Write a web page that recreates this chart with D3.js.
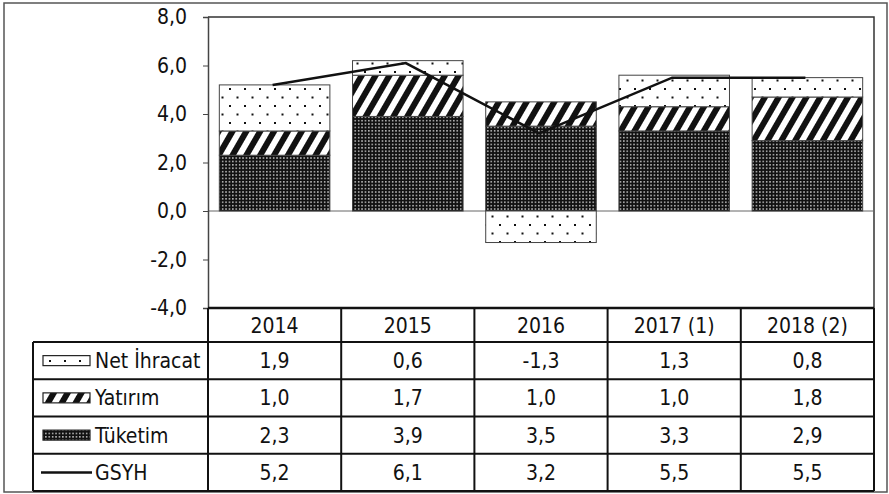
<!DOCTYPE html>
<html>
<head>
<meta charset="utf-8">
<script src="https://cdn.jsdelivr.net/npm/d3@7"></script>
<style>
  body { margin: 0; background: #fff; }
  svg { display: block; font-family: "DejaVu Sans Condensed", "DejaVu Sans", sans-serif; font-stretch: condensed; }
</style>
</head>
<body>
<svg></svg>
<script>
// Define variables
const width = 889
const height = 494

const years = ['2014', '2015', '2016', '2017 (1)', '2018 (2)']
const netIhracat = [1.9, 0.6, -1.3, 1.3, 0.8]
const yatirim = [1.0, 1.7, 1.0, 1.0, 1.8]
const tuketim = [2.3, 3.9, 3.5, 3.3, 2.9]
const gsyh = [5.2, 6.1, 3.2, 5.5, 5.5]
const yTicks = [-4, -2, 0, 2, 4, 6, 8]

const plotLeft = 208, plotRight = 874, plotTop = 17, plotBottom = 308
const tableLeft = 33, tableBottom = 491, headerBottom = 342
const fontSize = 21

const svg = d3.select('svg')
    .attr('width', width)
    .attr('height', height)

// patterns
const defs = svg.append('defs')

let pt = defs.append('pattern').attr('id', 'p-tuk')
    .attr('patternUnits', 'userSpaceOnUse').attr('width', 3.4).attr('height', 3.4)
pt.append('rect').attr('width', 3.4).attr('height', 3.4).attr('fill', '#111')
pt.append('rect').attr('x', 1).attr('y', 1).attr('width', 1.3).attr('height', 1.3).attr('fill', '#fff')

let py = defs.append('pattern').attr('id', 'p-yat')
    .attr('patternUnits', 'userSpaceOnUse').attr('width', 12).attr('height', 12)
    .attr('patternTransform', 'rotate(30)')
py.append('rect').attr('width', 12).attr('height', 12).attr('fill', '#fff')
py.append('rect').attr('width', 6).attr('height', 12).attr('fill', '#111')

let pn = defs.append('pattern').attr('id', 'p-net')
    .attr('patternUnits', 'userSpaceOnUse').attr('width', 15).attr('height', 17)
pn.append('rect').attr('width', 15).attr('height', 17).attr('fill', '#fff')
pn.append('rect').attr('x', 4).attr('y', 3).attr('width', 2).attr('height', 2).attr('fill', '#111')
pn.append('rect').attr('x', 11.5).attr('y', 11.5).attr('width', 2).attr('height', 2).attr('fill', '#111')

const fills = {tuk: 'url(#p-tuk)', yat: 'url(#p-yat)', net: 'url(#p-net)'}

// scales
let xScale = d3.scaleBand().domain(years).range([plotLeft, plotRight])
let barScale = d3.scaleBand().domain(years).range([plotLeft, plotRight])
    .paddingInner(0.17).paddingOuter(0.085)
let yScale = d3.scaleLinear().domain([-4, 8]).range([plotBottom, plotTop])

// outer frame
svg.append('rect')
    .attr('x', 4).attr('y', 3).attr('width', 883).attr('height', 489)
    .attr('fill', 'none').attr('stroke', '#555').attr('stroke-width', 1.5)

// plot border (top + right)
svg.append('path')
    .attr('d', `M${plotLeft},${plotTop}H${plotRight}V${plotBottom}`)
    .attr('fill', 'none').attr('stroke', '#333').attr('stroke-width', 1.5)

// zero line
svg.append('line')
    .attr('x1', plotLeft).attr('x2', plotRight)
    .attr('y1', yScale(0)).attr('y2', yScale(0))
    .attr('stroke', '#666').attr('stroke-width', 1)

// stacked bars
let segs = []
years.forEach((y, i) => {
    let t = tuketim[i], ya = yatirim[i], n = netIhracat[i]
    segs.push({year: y, y0: 0, y1: t, k: 'tuk'})
    segs.push({year: y, y0: t, y1: t + ya, k: 'yat'})
    if (n >= 0) segs.push({year: y, y0: t + ya, y1: t + ya + n, k: 'net'})
    else segs.push({year: y, y0: n, y1: 0, k: 'net'})
})

svg.append('g').selectAll('rect')
    .data(segs)
    .enter()
    .append('rect')
    .attr('x', d => barScale(d.year))
    .attr('width', barScale.bandwidth())
    .attr('y', d => yScale(d.y1))
    .attr('height', d => yScale(d.y0) - yScale(d.y1))
    .attr('fill', d => fills[d.k])
    .attr('stroke', '#444')
    .attr('stroke-width', 1)

// GSYH line
let line = d3.line()
    .x((d, i) => xScale(years[i]) + xScale.bandwidth() / 2 - 2)
    .y(d => yScale(d))
svg.append('path')
    .datum(gsyh)
    .attr('d', line)
    .attr('fill', 'none')
    .attr('stroke', '#111')
    .attr('stroke-width', 2.5)

// y axis
let fmt = v => d3.format('.1f')(v).replace('.', ',').replace('−', '-')
let yAxis = d3.axisLeft(yScale)
    .tickValues(yTicks)
    .tickSize(5)
    .tickFormat(fmt)
let gy = svg.append('g')
    .attr('transform', 'translate(' + plotLeft + ',0)')
    .call(yAxis)
gy.select('.domain').attr('stroke', '#444').attr('stroke-width', 1.5)
gy.selectAll('.tick line').attr('stroke', '#444')
gy.selectAll('.tick text')
    .attr('x', -21)
    .attr('font-size', fontSize)
    .attr('font-family', '"DejaVu Sans Condensed", "DejaVu Sans", sans-serif')
    .attr('fill', '#111')

// data table
const rowNames = ['Net İhracat', 'Yatırım', 'Tüketim', 'GSYH']
const rowData = [netIhracat, yatirim, tuketim, gsyh]
const rowKeys = ['net', 'yat', 'tuk', 'line']
let rowScale = d3.scaleBand().domain(rowNames).range([headerBottom, tableBottom])

let tbl = svg.append('g')
    .attr('stroke', '#111').attr('stroke-width', 2)

// horizontal lines
tbl.append('line').attr('x1', plotLeft).attr('x2', plotRight)
    .attr('y1', plotBottom).attr('y2', plotBottom).attr('stroke-width', 2.5)
rowNames.forEach(r => {
    tbl.append('line').attr('x1', tableLeft).attr('x2', plotRight)
        .attr('y1', rowScale(r)).attr('y2', rowScale(r))
})
tbl.append('line').attr('x1', tableLeft).attr('x2', plotRight)
    .attr('y1', tableBottom).attr('y2', tableBottom)

// vertical lines
tbl.append('line').attr('x1', tableLeft).attr('x2', tableLeft)
    .attr('y1', headerBottom).attr('y2', tableBottom)
years.forEach(y => {
    tbl.append('line').attr('x1', xScale(y)).attr('x2', xScale(y))
        .attr('y1', plotBottom).attr('y2', tableBottom)
})
tbl.append('line').attr('x1', plotRight).attr('x2', plotRight)
    .attr('y1', plotBottom).attr('y2', tableBottom)

// header texts
svg.append('g').selectAll('text')
    .data(years)
    .enter()
    .append('text')
    .attr('x', d => xScale(d) + xScale.bandwidth() / 2)
    .attr('y', (plotBottom + headerBottom) / 2)
    .attr('dy', '0.36em')
    .attr('text-anchor', 'middle')
    .attr('font-size', fontSize)
    .attr('fill', '#111')
    .text(d => d)

// row cells
rowNames.forEach((r, ri) => {
    let cy = rowScale(r) + rowScale.bandwidth() / 2
    svg.append('g').selectAll('text')
        .data(rowData[ri])
        .enter()
        .append('text')
        .attr('x', (d, i) => xScale(years[i]) + xScale.bandwidth() / 2)
        .attr('y', cy)
        .attr('dy', '0.36em')
        .attr('text-anchor', 'middle')
        .attr('font-size', fontSize)
        .attr('fill', '#111')
        .text(d => fmt(d))

    // legend label
    svg.append('text')
        .attr('x', 95)
        .attr('y', cy)
        .attr('dy', '0.36em')
        .attr('font-size', fontSize)
        .attr('fill', '#111')
        .text(r)

    // legend swatch
    if (rowKeys[ri] == 'line') {
        svg.append('line')
            .attr('x1', 41).attr('x2', 92)
            .attr('y1', cy).attr('y2', cy)
            .attr('stroke', '#111').attr('stroke-width', 2.5)
    } else {
        svg.append('rect')
            .attr('x', 43).attr('y', cy - 5)
            .attr('width', 47).attr('height', 10)
            .attr('fill', fills[rowKeys[ri]])
            .attr('stroke', '#222').attr('stroke-width', 1.2)
    }
})
</script>
</body>
</html>
